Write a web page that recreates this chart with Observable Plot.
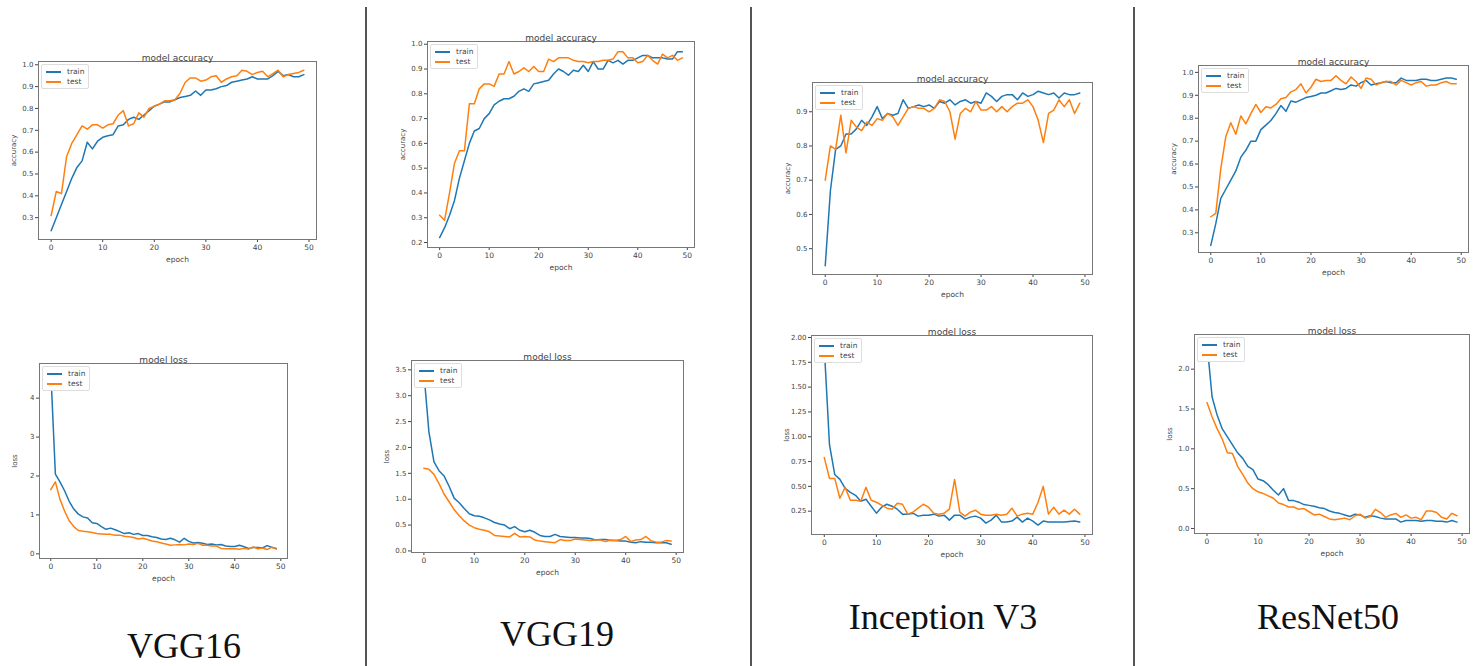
<!DOCTYPE html>
<html>
<head>
<meta charset="utf-8">
<script src="https://cdn.jsdelivr.net/npm/d3@7"></script>
<script src="https://cdn.jsdelivr.net/npm/@observablehq/plot@0.6"></script>
<style>
  html, body { margin: 0; padding: 0; background: #fff; }
  #page { position: relative; width: 1481px; height: 666px; overflow: hidden; background: #fff; }
  .panel { position: absolute; }
  .panel svg { display: block; overflow: visible; }
  .sep { position: absolute; width: 2px; background: #555; top: 7px; height: 659px; }
  .name { position: absolute; font-family: "Liberation Serif", "Times New Roman", serif; font-size: 36px; line-height: 36px; color: #111; white-space: nowrap; transform: translateX(-50%); }
  .legend { position: absolute; background: #fff; border: 1px solid #ddd; border-radius: 2px; padding: 2px 4px 1px 4px; font-family: "DejaVu Sans", sans-serif; color: #444; }
  .legend .row { display: flex; align-items: center; white-space: nowrap; }
  .legend .sw { display: inline-block; width: 15px; height: 1.5px; margin-right: 6px; }
</style>
</head>
<body>
<div id="page"></div>
<script>
// ---------------- data ----------------
const modelNames = ["VGG16", "VGG19", "Inception V3", "ResNet50"];
const seriesNames = ["train", "test"];
const epochTicks = [0, 10, 20, 30, 40, 50];
const accTicksA = [0.3, 0.4, 0.5, 0.6, 0.7, 0.8, 0.9, 1.0];
const accTicksB = [0.2, 0.3, 0.4, 0.5, 0.6, 0.7, 0.8, 0.9, 1.0];
const accTicksC = [0.5, 0.6, 0.7, 0.8, 0.9];
const lossTicksVGG16 = [0, 1, 2, 3, 4];
const lossTicksVGG19 = [0.0, 0.5, 1.0, 1.5, 2.0, 2.5, 3.0, 3.5];
const lossTicksInc = [0.25, 0.50, 0.75, 1.00, 1.25, 1.50, 1.75, 2.00];
const lossTicksRes = [0.0, 0.5, 1.0, 1.5, 2.0];

const vgg16AccTrain = [0.24,0.30,0.36,0.42,0.48,0.53,0.56,0.645,0.615,0.65,0.668,0.675,0.68,0.72,0.725,0.75,0.76,0.75,0.77,0.79,0.81,0.82,0.83,0.83,0.84,0.85,0.855,0.86,0.88,0.86,0.885,0.885,0.89,0.90,0.905,0.92,0.925,0.93,0.935,0.945,0.935,0.935,0.935,0.95,0.97,0.95,0.955,0.945,0.945,0.955];
const vgg16AccTest = [0.31,0.42,0.41,0.58,0.64,0.68,0.72,0.705,0.725,0.725,0.71,0.725,0.73,0.77,0.79,0.72,0.73,0.78,0.76,0.80,0.81,0.82,0.835,0.835,0.84,0.87,0.92,0.94,0.94,0.925,0.93,0.945,0.95,0.92,0.935,0.945,0.95,0.975,0.97,0.955,0.965,0.97,0.945,0.96,0.975,0.945,0.955,0.96,0.965,0.975];
const vgg19AccTrain = [0.22,0.26,0.31,0.37,0.46,0.53,0.60,0.65,0.66,0.70,0.72,0.755,0.77,0.78,0.78,0.79,0.81,0.82,0.81,0.84,0.845,0.85,0.855,0.88,0.90,0.89,0.875,0.895,0.89,0.915,0.89,0.93,0.90,0.90,0.935,0.925,0.935,0.92,0.935,0.935,0.945,0.955,0.955,0.945,0.945,0.945,0.94,0.94,0.97,0.97];
const vgg19AccTest = [0.31,0.29,0.40,0.52,0.57,0.57,0.76,0.76,0.82,0.84,0.84,0.83,0.88,0.88,0.93,0.88,0.89,0.905,0.89,0.91,0.89,0.89,0.94,0.93,0.945,0.945,0.945,0.935,0.93,0.93,0.925,0.93,0.93,0.935,0.935,0.94,0.97,0.97,0.945,0.945,0.925,0.93,0.955,0.935,0.92,0.96,0.945,0.955,0.935,0.945];
const incAccTrain = [0.45,0.67,0.79,0.80,0.835,0.835,0.85,0.875,0.86,0.885,0.915,0.88,0.895,0.89,0.895,0.935,0.91,0.915,0.92,0.915,0.92,0.91,0.93,0.925,0.935,0.92,0.93,0.935,0.925,0.93,0.925,0.955,0.945,0.93,0.945,0.95,0.95,0.935,0.955,0.945,0.95,0.96,0.955,0.95,0.955,0.94,0.955,0.95,0.95,0.955];
const incAccTest = [0.70,0.80,0.79,0.89,0.78,0.875,0.855,0.845,0.87,0.86,0.88,0.875,0.895,0.885,0.86,0.885,0.91,0.915,0.91,0.91,0.90,0.91,0.935,0.93,0.90,0.82,0.895,0.91,0.90,0.93,0.905,0.905,0.915,0.90,0.915,0.90,0.915,0.925,0.925,0.935,0.915,0.875,0.81,0.895,0.905,0.935,0.915,0.935,0.895,0.925];
const resAccTrain = [0.245,0.34,0.45,0.49,0.53,0.57,0.63,0.66,0.70,0.70,0.75,0.77,0.79,0.82,0.855,0.83,0.875,0.87,0.88,0.89,0.895,0.90,0.91,0.91,0.92,0.93,0.925,0.93,0.945,0.94,0.955,0.965,0.945,0.95,0.955,0.96,0.955,0.955,0.975,0.965,0.965,0.965,0.97,0.97,0.965,0.965,0.97,0.975,0.975,0.97];
const resAccTest = [0.37,0.385,0.58,0.72,0.78,0.73,0.81,0.775,0.82,0.86,0.825,0.85,0.845,0.86,0.885,0.89,0.915,0.925,0.95,0.91,0.935,0.97,0.96,0.965,0.965,0.985,0.965,0.95,0.98,0.96,0.93,0.975,0.97,0.945,0.955,0.96,0.96,0.945,0.965,0.955,0.945,0.955,0.96,0.94,0.945,0.945,0.955,0.96,0.95,0.95];

const vgg16LossTrain = [4.7,2.05,1.85,1.62,1.35,1.15,1.02,0.95,0.92,0.80,0.78,0.70,0.63,0.66,0.62,0.57,0.52,0.54,0.50,0.52,0.47,0.47,0.44,0.42,0.38,0.37,0.40,0.36,0.30,0.40,0.32,0.28,0.29,0.27,0.24,0.25,0.23,0.24,0.20,0.19,0.19,0.22,0.18,0.14,0.16,0.16,0.15,0.21,0.17,0.14];
const vgg16LossTest = [1.65,1.85,1.40,1.10,0.85,0.70,0.60,0.58,0.57,0.55,0.52,0.51,0.50,0.50,0.48,0.48,0.45,0.44,0.42,0.38,0.40,0.37,0.33,0.31,0.28,0.25,0.22,0.23,0.24,0.23,0.25,0.24,0.27,0.22,0.22,0.20,0.20,0.14,0.13,0.13,0.13,0.12,0.14,0.12,0.18,0.13,0.15,0.11,0.17,0.12];
const vgg19LossTrain = [3.45,2.3,1.72,1.55,1.45,1.25,1.02,0.93,0.82,0.72,0.68,0.67,0.64,0.60,0.55,0.52,0.50,0.43,0.47,0.40,0.37,0.40,0.36,0.30,0.28,0.28,0.32,0.28,0.27,0.26,0.26,0.25,0.25,0.24,0.21,0.22,0.22,0.20,0.20,0.19,0.19,0.17,0.16,0.18,0.17,0.17,0.16,0.16,0.16,0.13];
const vgg19LossTest = [1.6,1.58,1.48,1.30,1.10,0.95,0.80,0.68,0.58,0.50,0.45,0.42,0.40,0.37,0.30,0.29,0.28,0.27,0.34,0.27,0.28,0.27,0.21,0.19,0.18,0.17,0.16,0.22,0.20,0.20,0.23,0.22,0.21,0.20,0.21,0.21,0.18,0.21,0.20,0.22,0.28,0.18,0.21,0.22,0.28,0.20,0.17,0.17,0.20,0.19];
const incLossTrain = [1.90,0.92,0.62,0.57,0.48,0.44,0.41,0.35,0.37,0.30,0.23,0.29,0.32,0.30,0.27,0.22,0.22,0.23,0.20,0.21,0.21,0.22,0.20,0.21,0.16,0.21,0.21,0.17,0.19,0.20,0.18,0.13,0.16,0.21,0.14,0.14,0.15,0.19,0.14,0.18,0.15,0.11,0.15,0.14,0.14,0.14,0.14,0.145,0.15,0.14];
const incLossTest = [0.79,0.58,0.58,0.38,0.49,0.36,0.36,0.35,0.49,0.36,0.34,0.31,0.28,0.27,0.33,0.32,0.22,0.24,0.28,0.32,0.29,0.23,0.22,0.23,0.27,0.57,0.24,0.20,0.24,0.26,0.22,0.21,0.21,0.22,0.21,0.22,0.28,0.20,0.22,0.23,0.22,0.34,0.50,0.22,0.29,0.22,0.26,0.22,0.27,0.22];
const resLossTrain = [2.33,1.65,1.42,1.25,1.15,1.05,0.95,0.88,0.78,0.74,0.62,0.60,0.55,0.48,0.42,0.50,0.35,0.35,0.33,0.30,0.29,0.28,0.26,0.25,0.22,0.20,0.19,0.17,0.15,0.18,0.17,0.14,0.16,0.15,0.13,0.12,0.12,0.12,0.08,0.10,0.10,0.10,0.09,0.10,0.10,0.09,0.09,0.08,0.10,0.08];
const resLossTest = [1.58,1.40,1.25,1.12,0.95,0.94,0.78,0.68,0.57,0.50,0.46,0.44,0.41,0.38,0.32,0.30,0.27,0.27,0.24,0.25,0.21,0.17,0.18,0.15,0.12,0.11,0.12,0.13,0.11,0.16,0.18,0.13,0.15,0.24,0.20,0.14,0.17,0.19,0.14,0.17,0.13,0.14,0.11,0.22,0.22,0.20,0.14,0.12,0.19,0.16];

// ---------------- layout ----------------
const xDomain = [-2.45, 51.45];
const colors = {train: "#1f77b4", test: "#ff7f0e"};

const panels = [
  {train: vgg16AccTrain, test: vgg16AccTest, title: "model accuracy", ylabel: "accuracy", ticks: accTicksA, fmt: ".1f", frame: [38, 61, 316, 239], yDomain: [0.2, 1.015]},
  {train: vgg19AccTrain, test: vgg19AccTest, title: "model accuracy", ylabel: "accuracy", ticks: accTicksB, fmt: ".1f", frame: [427, 41, 694, 247], yDomain: [0.18, 1.011]},
  {train: incAccTrain, test: incAccTest, title: "model accuracy", ylabel: "accuracy", ticks: accTicksC, fmt: ".1f", frame: [812, 82, 1092, 274], yDomain: [0.4245, 0.9855]},
  {train: resAccTrain, test: resAccTest, title: "model accuracy", ylabel: "accuracy", ticks: accTicksA, fmt: ".1f", frame: [1198, 65, 1468, 252], yDomain: [0.214, 1.03]},
  {train: vgg16LossTrain, test: vgg16LossTest, title: "model loss", ylabel: "loss", ticks: lossTicksVGG16, fmt: "d", frame: [39, 363, 287, 558], yDomain: [-0.12, 4.89]},
  {train: vgg19LossTrain, test: vgg19LossTest, title: "model loss", ylabel: "loss", ticks: lossTicksVGG19, fmt: ".1f", frame: [411, 360, 683, 552], yDomain: [-0.03, 3.68]},
  {train: incLossTrain, test: incLossTest, title: "model loss", ylabel: "loss", ticks: lossTicksInc, fmt: ".2f", frame: [811, 335, 1092, 534], yDomain: [0.015, 2.02]},
  {train: resLossTrain, test: resLossTest, title: "model loss", ylabel: "loss", ticks: lossTicksRes, fmt: ".1f", frame: [1194, 334, 1469, 533], yDomain: [-0.063, 2.435]}
];

const namePos = [[184, 628], [557, 616], [943, 599], [1328, 599]];
const sepX = [365, 750, 1133];

const page = document.getElementById("page");

for (const p of panels) {
  const [L, T, R, B] = p.frame;
  const ml = Math.min(36, L), mr = 8, mt = 22, mb = 30;
  const chart = Plot.plot({
    width: R - L + ml + mr,
    height: B - T + mt + mb,
    marginLeft: ml, marginRight: mr, marginTop: mt, marginBottom: mb,
    style: {fontFamily: "DejaVu Sans", fontSize: "7px", color: "#444", background: "transparent", overflow: "visible"},
    x: {domain: xDomain},
    y: {domain: p.yDomain},
    marks: [
      Plot.axisX({ticks: epochTicks, tickFormat: d3.format("d"), tickSize: 3, tickPadding: 2, label: "epoch", labelAnchor: "center", labelOffset: 22, labelArrow: "none", fontSize: 7.5}),
      Plot.axisY({ticks: p.ticks, tickFormat: d3.format(p.fmt), tickSize: 3, tickPadding: 2, label: p.ylabel, labelAnchor: "center", labelOffset: 27, labelArrow: "none", fontSize: 7}),
      Plot.lineY(p.train, {x: (d, i) => i, y: d => d, stroke: colors.train, strokeWidth: 1.5}),
      Plot.lineY(p.test, {x: (d, i) => i, y: d => d, stroke: colors.test, strokeWidth: 1.5}),
      Plot.frame({stroke: "#777", strokeWidth: 1}),
      Plot.text([p.title], {frameAnchor: "top", dy: -7, fontSize: 9, fill: "#444"})
    ]
  });
  const box = document.createElement("div");
  box.className = "panel";
  box.style.left = (L - ml) + "px";
  box.style.top = (T - mt) + "px";
  box.appendChild(chart);
  // legend (upper left inside the frame)
  const lg = document.createElement("div");
  lg.className = "legend";
  lg.style.left = (ml + 3) + "px";
  lg.style.top = (mt + 3) + "px";
  lg.style.fontSize = "7.5px";
  lg.style.lineHeight = "10px";
  for (const s of seriesNames) {
    const row = document.createElement("div");
    row.className = "row";
    const sw = document.createElement("span");
    sw.className = "sw";
    sw.style.background = colors[s];
    row.appendChild(sw);
    row.appendChild(document.createTextNode(s));
    lg.appendChild(row);
  }
  box.appendChild(lg);
  page.appendChild(box);
}

sepX.forEach(x => {
  const d = document.createElement("div");
  d.className = "sep";
  d.style.left = x + "px";
  page.appendChild(d);
});

modelNames.forEach((n, i) => {
  const d = document.createElement("div");
  d.className = "name";
  d.textContent = n;
  d.style.left = namePos[i][0] + "px";
  d.style.top = namePos[i][1] + "px";
  page.appendChild(d);
});
</script>
</body>
</html>
